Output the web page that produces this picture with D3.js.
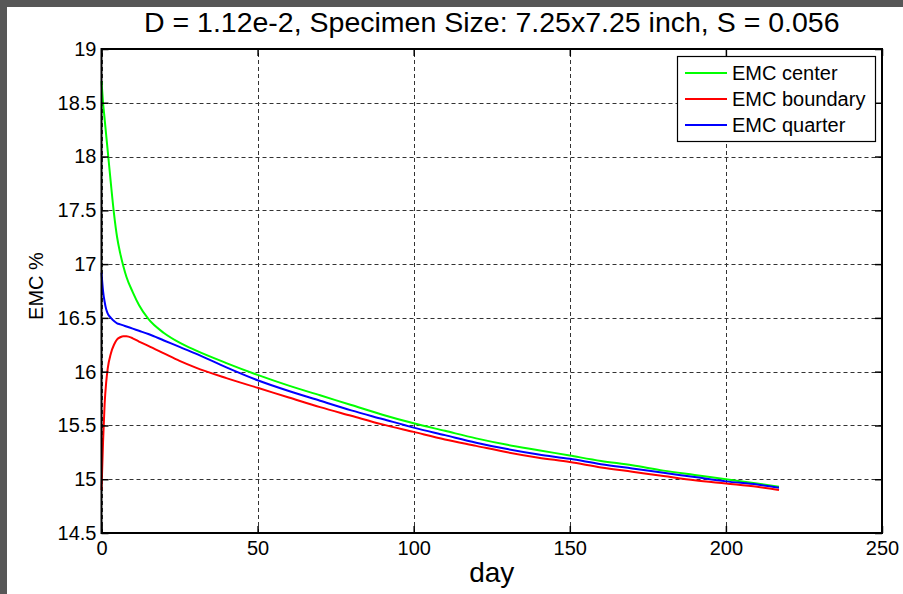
<!DOCTYPE html>
<html>
<head>
<meta charset="utf-8">
<script src="https://cdn.jsdelivr.net/npm/d3@7"></script>
<style>
  body { margin: 0; background: #fff; }
  svg { display: block; font-family: Arial, 'Liberation Sans', sans-serif; }
</style>
</head>
<body>
<script>
  // values
  const days = [0, 0.5, 1, 1.5, 2, 3, 4, 5, 6, 7, 8, 10, 12, 15, 20, 25, 30, 40, 50,
    60, 70, 80, 90, 100, 110, 120, 130, 140, 150, 160, 170, 180, 190, 200, 210, 217];

  const emcCenter = [18.7, 18.5, 18.35, 18.2, 18.05, 17.75, 17.47, 17.25, 17.1, 16.98, 16.88,
    16.74, 16.62, 16.49, 16.36, 16.27, 16.2, 16.08, 15.97, 15.87, 15.78, 15.69, 15.6, 15.52,
    15.45, 15.38, 15.32, 15.27, 15.22, 15.17, 15.13, 15.08, 15.04, 15.0, 14.96, 14.93];

  const emcBoundary = [14.9, 15.35, 15.7, 15.9, 16.03, 16.17, 16.25, 16.3, 16.32, 16.33, 16.33,
    16.31, 16.28, 16.24, 16.17, 16.1, 16.04, 15.94, 15.85, 15.76, 15.67, 15.59, 15.51, 15.44,
    15.37, 15.31, 15.25, 15.2, 15.16, 15.11, 15.07, 15.03, 14.99, 14.96, 14.93, 14.9];

  const emcQuarter = [16.92, 16.75, 16.65, 16.58, 16.54, 16.5, 16.47, 16.45, 16.44, 16.43, 16.42,
    16.4, 16.38, 16.35, 16.29, 16.23, 16.17, 16.04, 15.92, 15.82, 15.73, 15.64, 15.56, 15.48,
    15.41, 15.34, 15.28, 15.23, 15.19, 15.14, 15.1, 15.06, 15.02, 14.98, 14.95, 14.92];

  const seriesNames = ['EMC center', 'EMC boundary', 'EMC quarter'];
  const seriesColors = ['#00ff00', '#ff0000', '#0000ff'];
  const xTicks = [0, 50, 100, 150, 200, 250];
  const yTicks = [14.5, 15, 15.5, 16, 16.5, 17, 17.5, 18, 18.5, 19];

  const titleText = 'D = 1.12e-2, Specimen Size: 7.25x7.25 inch, S = 0.056';

  const width = 903;
  const height = 594;
  const margin = { top: 49, right: 21, bottom: 61, left: 101.5 };

  const svg = d3.select('body')
    .append('svg')
    .attr('width', width)
    .attr('height', height);

  // dark frame on top and left
  svg.append('rect').attr('x', 0).attr('y', 0).attr('width', width).attr('height', 7).attr('fill', '#575757');
  svg.append('rect').attr('x', 0).attr('y', 0).attr('width', 7).attr('height', height).attr('fill', '#575757');

  const x = d3.scaleLinear()
    .domain([0, 250])
    .range([margin.left, width - margin.right]);

  const y = d3.scaleLinear()
    .domain([14.5, 19])
    .range([height - margin.bottom, margin.top]);

  // grid
  const grid = svg.append('g')
    .attr('stroke', '#333')
    .attr('stroke-width', 1)
    .attr('stroke-dasharray', '4,3');

  grid.selectAll('.vg')
    .data(xTicks)
    .join('line')
    .attr('x1', (d) => Math.round(x(d)) + 0.5)
    .attr('x2', (d) => Math.round(x(d)) + 0.5)
    .attr('y1', y.range()[0])
    .attr('y2', y.range()[1]);

  grid.selectAll('.hg')
    .data(yTicks)
    .join('line')
    .attr('y1', (d) => Math.round(y(d)) + 0.5)
    .attr('y2', (d) => Math.round(y(d)) + 0.5)
    .attr('x1', x.range()[0])
    .attr('x2', x.range()[1]);

  // curves
  const allSeries = [emcCenter, emcBoundary, emcQuarter];
  const line = d3.line()
    .curve(d3.curveMonotoneX)
    .x((d) => x(d[0]))
    .y((d) => y(d[1]));

  // draw order: center, quarter, boundary (boundary on top at the end)
  [0, 2, 1].forEach((i) => {
    svg.append('path')
      .datum(days.map((d, j) => [d, allSeries[i][j]]))
      .attr('fill', 'none')
      .attr('stroke', seriesColors[i])
      .attr('stroke-width', 2)
      .attr('d', line);
  });

  // axes, ticks pointing inward
  const styleAxis = (g) => {
    g.select('.domain').remove();
    g.selectAll('.tick line').attr('stroke', '#000').attr('stroke-width', 1.5);
    g.selectAll('.tick text')
      .attr('fill', '#000')
      .style('font-size', '20px')
      .style('font-family', "Arial, 'Liberation Sans', sans-serif");
  };

  svg.append('g')
    .attr('transform', `translate(0,${y.range()[0]})`)
    .call(d3.axisBottom(x).tickValues(xTicks).tickSize(-7).tickPadding(8))
    .call(styleAxis);

  svg.append('g')
    .attr('transform', `translate(0,${y.range()[1]})`)
    .call(d3.axisTop(x).tickValues(xTicks).tickSize(-7).tickFormat(''))
    .call(styleAxis);

  svg.append('g')
    .attr('transform', `translate(${x.range()[0]},0)`)
    .call(d3.axisLeft(y).tickValues(yTicks).tickSize(-7).tickPadding(5).tickFormat(d3.format('')))
    .call(styleAxis);

  svg.append('g')
    .attr('transform', `translate(${x.range()[1]},0)`)
    .call(d3.axisRight(y).tickValues(yTicks).tickSize(-7).tickFormat(''))
    .call(styleAxis);

  // box
  svg.append('rect')
    .attr('x', x.range()[0])
    .attr('y', y.range()[1])
    .attr('width', x.range()[1] - x.range()[0])
    .attr('height', y.range()[0] - y.range()[1])
    .attr('fill', 'none')
    .attr('stroke', '#000')
    .attr('stroke-width', 2);

  // title and axis labels
  svg.append('text')
    .attr('x', (x.range()[0] + x.range()[1]) / 2)
    .attr('y', 32)
    .attr('text-anchor', 'middle')
    .style('font-size', '28.5px')
    .text(titleText);

  svg.append('text')
    .attr('x', (x.range()[0] + x.range()[1]) / 2)
    .attr('y', 582)
    .attr('text-anchor', 'middle')
    .style('font-size', '28px')
    .text('day');

  svg.append('text')
    .attr('transform', `translate(43,${(y.range()[0] + y.range()[1]) / 2 - 5}) rotate(-90)`)
    .attr('text-anchor', 'middle')
    .style('font-size', '20px')
    .text('EMC %');

  // legend
  const legend = svg.append('g').attr('transform', 'translate(677,56)');
  legend.append('rect')
    .attr('x', 0.5)
    .attr('y', 0.5)
    .attr('width', 198)
    .attr('height', 85)
    .attr('fill', '#fff')
    .attr('stroke', '#000')
    .attr('stroke-width', 1.2);

  const rowY = [17, 43, 69];
  seriesNames.forEach((name, i) => {
    legend.append('line')
      .attr('x1', 8)
      .attr('x2', 50)
      .attr('y1', rowY[i])
      .attr('y2', rowY[i])
      .attr('stroke', seriesColors[i])
      .attr('stroke-width', 2);
    legend.append('text')
      .attr('x', 55)
      .attr('y', rowY[i] + 7)
      .style('font-size', '20px')
      .text(name);
  });
</script>
</body>
</html>
